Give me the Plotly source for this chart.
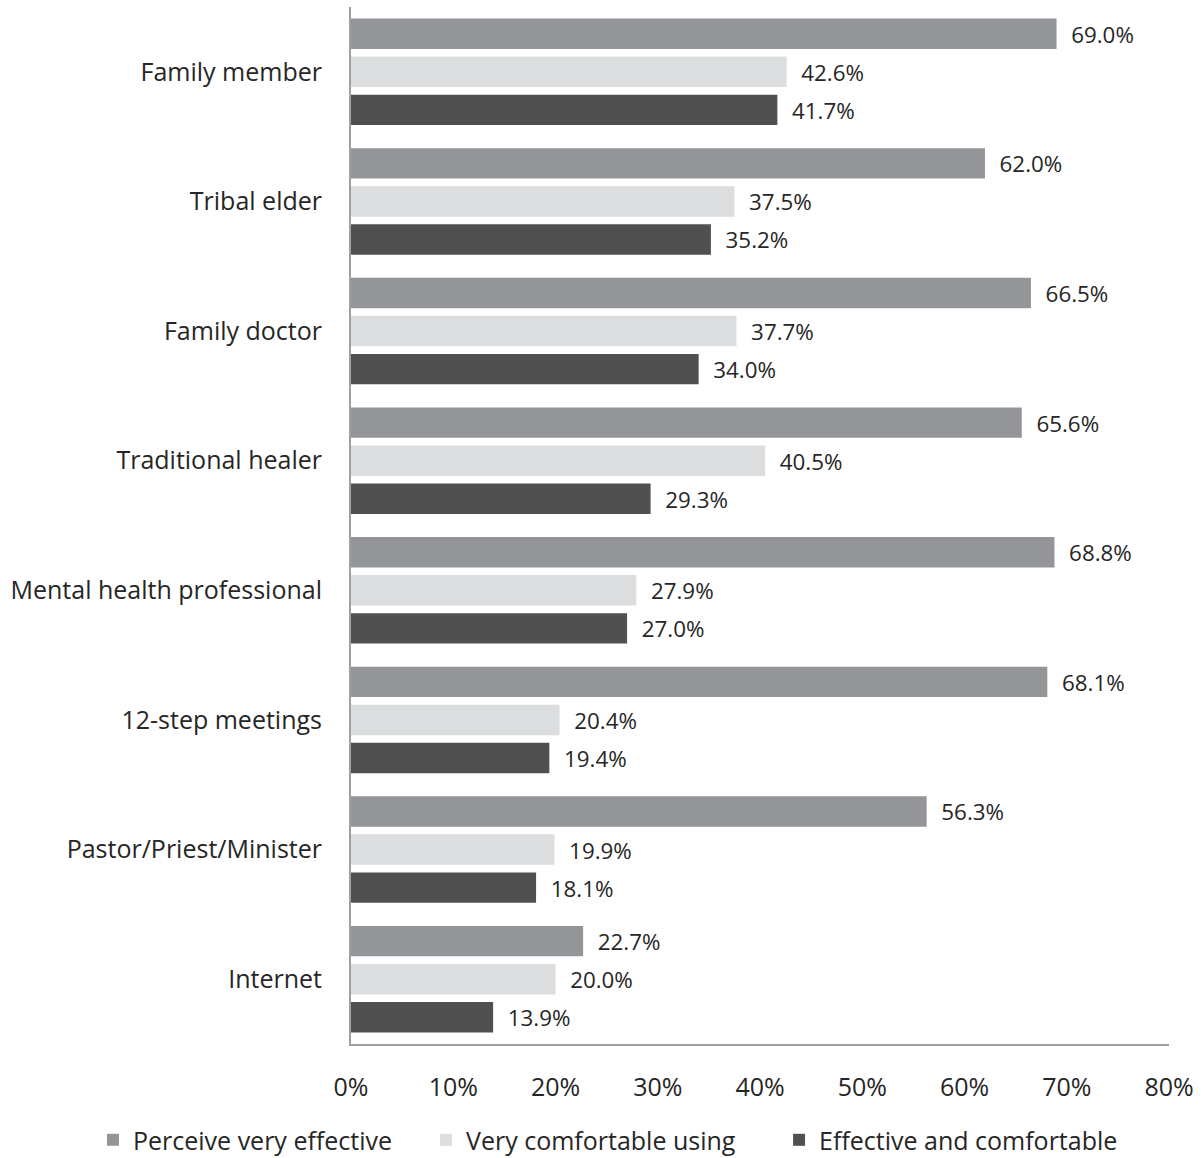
import plotly.graph_objects as go

categories = ["Family member", "Tribal elder", "Family doctor", "Traditional healer",
              "Mental health professional", "12-step meetings", "Pastor/Priest/Minister", "Internet"]
perceive_effective = [69.0, 62.0, 66.5, 65.6, 68.8, 68.1, 56.3, 22.7]
very_comfortable = [42.6, 37.5, 37.7, 40.5, 27.9, 20.4, 19.9, 20.0]
effective_and_comfortable = [41.7, 35.2, 34.0, 29.3, 27.0, 19.4, 18.1, 13.9]
series_names = ["Perceive very effective", "Very comfortable using", "Effective and comfortable"]
colors = ["#939598", "#dcddde", "#505050"]

FONT = "Open Sans, Noto Sans, sans-serif"
FS = 25
legend_ids = ["legend", "legend2", "legend3"]
legend_x = [0.0773, 0.3541, 0.6476]

fig = go.Figure()
for name, vals, col, lid in zip(series_names, [perceive_effective, very_comfortable, effective_and_comfortable], colors, legend_ids):
    fig.add_trace(go.Bar(
        y=categories, x=vals, name=name, orientation="h",
        marker=dict(color=col, line=dict(width=0)),
        text=[f"  {v:.1f}%" for v in vals], textposition="outside",
        textfont=dict(size=FS, color="#262626", family=FONT),
        cliponaxis=False, legend=lid,
    ))

legend_common = dict(orientation="h", xref="container", yref="container", xanchor="left",
                     y=0.0155, yanchor="middle", font=dict(size=FS, color="#262626"),
                     itemwidth=30, bgcolor="rgba(0,0,0,0)")

fig.update_layout(
    width=1203, height=1158,
    barmode="group", bargap=0.12, bargroupgap=0.2,
    plot_bgcolor="white", paper_bgcolor="white",
    margin=dict(l=351, r=34, t=7, b=114),
    font=dict(family=FONT, size=FS, color="#262626"),
    xaxis=dict(range=[0, 80], tickvals=[0, 10, 20, 30, 40, 50, 60, 70, 80],
               ticktext=[f"{t}%" for t in range(0, 90, 10)],
               showgrid=False, zeroline=False, showline=True, linecolor="#a0a0a0", linewidth=2,
               ticks="", ticklabelstandoff=20, automargin=False),
    yaxis=dict(autorange="reversed", showgrid=False, zeroline=False, showline=True,
               linecolor="#a0a0a0", linewidth=2, ticks="", ticklabelstandoff=22, automargin=False),
    legend=dict(x=legend_x[0], **legend_common),
    legend2=dict(x=legend_x[1], **legend_common),
    legend3=dict(x=legend_x[2], **legend_common),
    showlegend=True,
)
fig.write_html("out.html", post_script="document.body.style.margin='0';",
               config={"displayModeBar": False})
